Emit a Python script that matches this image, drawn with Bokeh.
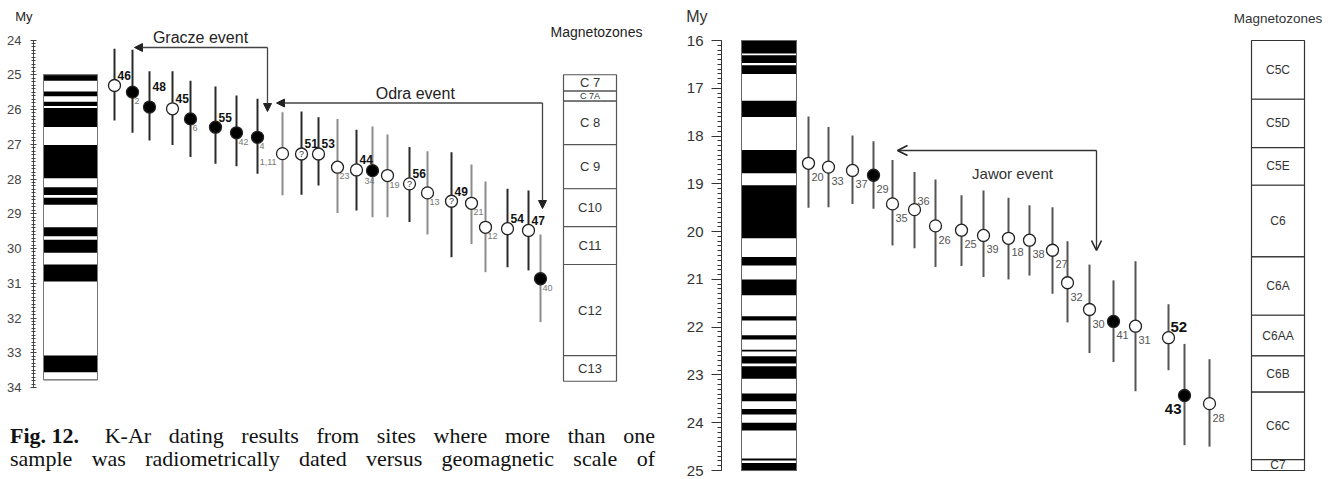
from bokeh.plotting import figure
from bokeh.models import Range1d, FixedTicker, ColumnDataSource, Arrow, NormalHead, OpenHead, Div
from bokeh.layouts import row, column
from bokeh.core.properties import value
from bokeh.embed import file_html
from bokeh.resources import INLINE

SANS = value("Liberation Sans")
SANS_STR = "Liberation Sans"

# ---------------- data: left panel ----------------
left_labels = ["46", "2", "48", "45", "6", "55", "42", "4", "1,11", "51", "53", "23",
               "44", "34", "19", "56", "13", "49", "21", "12", "54", "47", "40"]
left_x = [114, 132, 149, 172, 190, 215, 236, 257, 282, 301, 318, 337,
          356, 372, 387, 409, 427, 451, 471, 485, 507, 528, 540]
left_age = [25.31, 25.50, 25.93, 25.98, 26.27, 26.51, 26.67, 26.80, 27.27, 27.28, 27.28, 27.66,
            27.74, 27.76, 27.90, 28.14, 28.40, 28.64, 28.70, 29.39, 29.43, 29.48, 30.87]
left_lo = [24.25, 24.28, 24.90, 24.90, 25.17, 25.34, 25.60, 25.69, 26.08, 26.06, 26.22, 26.27,
           26.58, 26.49, 26.72, 27.08, 27.20, 27.23, 27.58, 28.07, 28.28, 28.33, 29.60]
left_hi = [26.32, 26.67, 26.89, 27.02, 27.37, 27.56, 27.63, 27.85, 28.47, 28.45, 28.19, 28.98,
           28.91, 29.10, 29.10, 29.24, 29.60, 30.25, 29.87, 30.68, 30.54, 30.63, 32.12]
left_filled = ["2", "48", "6", "55", "42", "4", "34", "40"]
left_bold = ["46", "48", "45", "55", "51", "53", "44", "56", "49", "54", "47"]
left_query = ["51", "56", "49"]

left_black_top = [25.00, 25.48, 25.78, 25.96, 27.02, 28.24, 28.54, 29.39, 29.75, 30.46, 33.08]
left_black_bot = [25.17, 25.62, 25.90, 26.50, 27.98, 28.46, 28.74, 29.65, 30.12, 30.95, 33.56]
left_column_span = [25.00, 33.78]

left_zone_names = ["C 7", "C 7A", "C 8", "C 9", "C10", "C11", "C12", "C13"]
left_zone_bounds = [25.00, 25.47, 25.76, 27.01, 28.28, 29.37, 30.46, 33.08, 33.82]

left_ticks = list(range(24, 35))

# ---------------- data: right panel ----------------
right_labels = ["20", "33", "37", "29", "35", "36", "26", "25", "39", "18", "38", "27",
                "32", "30", "41", "31", "52", "43", "28"]
right_x = [808, 828, 852, 873, 892, 914, 935, 961, 983, 1008, 1029, 1052,
           1067, 1089, 1113, 1135, 1168, 1184, 1209]
right_age = [18.57, 18.65, 18.72, 18.82, 19.42, 19.54, 19.88, 19.97, 20.08, 20.14, 20.18, 20.39,
             21.07, 21.63, 21.88, 21.98, 22.22, 23.43, 23.60]
right_lo = [17.59, 17.81, 17.99, 18.11, 18.50, 18.75, 18.91, 19.24, 19.14, 19.29, 19.45, 19.49,
            20.20, 20.69, 21.02, 20.62, 21.52, 22.35, 22.67]
right_hi = [19.50, 19.49, 19.42, 19.52, 20.29, 20.35, 20.74, 20.72, 20.95, 21.00, 20.92, 21.30,
            21.90, 22.54, 22.73, 23.34, 22.90, 24.47, 24.50]
right_filled = ["29", "41", "43"]
right_bold = ["52", "43"]

right_black_top = [16.00, 16.31, 16.52, 17.26, 18.29, 19.03, 20.53, 21.00, 21.77, 22.17, 22.47,
                   22.61, 22.82, 23.39, 23.71, 24.00, 24.75, 24.84]
right_black_bot = [16.27, 16.47, 16.70, 17.60, 18.78, 20.14, 20.71, 21.33, 21.86, 22.26, 22.51,
                   22.76, 23.08, 23.55, 23.83, 24.16, 24.79, 25.00]
right_column_span = [16.00, 25.00]

right_zone_names = ["C5C", "C5D", "C5E", "C6", "C6A", "C6AA", "C6B", "C6C", "C7"]
right_zone_bounds = [16.00, 17.23, 18.24, 19.03, 20.53, 21.75, 22.60, 23.36, 24.77, 25.00]

right_ticks = list(range(16, 26))

caption_bold = "Fig. 12."
caption_line1 = "K-Ar dating results from sites where more than one"
caption_line2 = "sample was radiometrically dated versus geomagnetic scale of"

L_STRIP = 24  # height of the top strip holding the "My" unit label (left)
R_STRIP = 28  # same, right panel (also holds "Magnetozones")


def plain_fig(width, height, xr, yr, left_border):
    p = figure(width=width, height=height, x_range=xr, y_range=yr,
               output_backend="svg", toolbar_location=None,
               min_border_left=left_border, min_border_right=0,
               min_border_top=0, min_border_bottom=0,
               x_axis_location=None)
    p.grid.visible = False
    p.outline_line_color = None
    p.background_fill_color = "white"
    p.border_fill_color = "white"
    return p


def unit_strip(width, height, x0, x1, left_border, y_label, size, standoff, color):
    """Thin figure whose (otherwise invisible) y axis carries the 'My' unit label."""
    s = plain_fig(width, height, Range1d(x0, x1), Range1d(height, 0), left_border)
    ax = s.yaxis[0]
    ax.ticker = FixedTicker(ticks=[y_label], minor_ticks=[])
    ax.major_label_overrides = {y_label: "My"}
    ax.axis_line_color = None
    ax.major_tick_line_color = None
    ax.minor_tick_line_color = None
    ax.major_tick_out = 0
    ax.major_tick_in = 0
    ax.major_label_standoff = standoff
    ax.major_label_text_font = SANS_STR
    ax.major_label_text_font_size = size
    ax.major_label_text_color = color
    return s


def style_axis(p, ticks, size, tick_out, tick_in, minor_out, minor_in, standoff, color):
    lo, hi = ticks[0], ticks[-1]
    minors = [round(lo + 0.1 * i, 2) for i in range(int((hi - lo) * 10) + 1)]
    ax = p.yaxis[0]
    ax.ticker = FixedTicker(ticks=ticks, minor_ticks=minors)
    ax.bounds = (lo, hi)
    ax.major_label_text_font = SANS_STR
    ax.major_label_text_font_size = size
    ax.major_label_text_color = color
    ax.major_tick_out = tick_out
    ax.major_tick_in = tick_in
    ax.minor_tick_out = minor_out
    ax.minor_tick_in = minor_in
    ax.major_label_standoff = standoff
    ax.axis_line_color = color
    ax.major_tick_line_color = color
    ax.minor_tick_line_color = color


def draw_polarity(p, x0, x1, span, tops, bots, edge):
    p.quad(left=x0, right=x1, top=span[0], bottom=span[1], fill_color="white",
           line_color=edge, line_width=1)
    p.quad(left=[x0] * len(tops), right=[x1] * len(tops), top=tops, bottom=bots,
           fill_color="black", line_color=None)
    p.quad(left=x0, right=x1, top=span[0], bottom=span[1], fill_color=None,
           line_color=edge, line_width=1)


def draw_zones(p, x0, x1, names, bounds, edge, fsize, small=None):
    n = len(names)
    p.quad(left=[x0] * n, right=[x1] * n, top=bounds[:-1], bottom=bounds[1:],
           fill_color="white", line_color=edge, line_width=1.2)
    mids = [(bounds[i] + bounds[i + 1]) / 2 for i in range(n)]
    sizes = [small[1] if (small and names[i] in small[0]) else fsize for i in range(n)]
    src = ColumnDataSource(dict(x=[(x0 + x1) / 2] * n, y=mids, t=names, s=sizes))
    p.text(x="x", y="y", text="t", source=src, text_font=SANS, text_font_size="s",
           text_align="center", text_baseline="middle", text_color="#333")


def point_labels(p, rows):
    for align in ("left", "right"):
        d = dict(x=[], y=[], t=[], dx=[], dy=[], s=[], c=[], st=[])
        for r in rows:
            if r["align"] != align:
                continue
            for k in d:
                d[k].append(r[k])
        if d["x"]:
            p.text(x="x", y="y", text="t", x_offset="dx", y_offset="dy", text_font_size="s",
                   text_color="c", text_font_style="st", source=ColumnDataSource(d),
                   text_font=SANS, text_align=align, text_baseline="middle")


# ================= LEFT PANEL =================
L_PX = 34.75


def ly(py):
    return 24 + (py - 39.5) / L_PX


lstrip = unit_strip(668, L_STRIP, 33, 668, 33, 16.7, "13px", 1, "#222")

left = plain_fig(668, 408 - L_STRIP, Range1d(33, 668), Range1d(ly(408), ly(L_STRIP)), 33)
style_axis(left, left_ticks, "13px", 3, 3, 2, 2, 9, "#444")

draw_polarity(left, 43, 97, left_column_span, left_black_top, left_black_bot, "#777")
draw_zones(left, 563, 616, left_zone_names, left_zone_bounds, "#555", "13px",
           small=(["C 7A"], "9px"))

dark_bars = set(left_bold) | {"2", "6", "42", "4"}
bar_col = ["#2a2a2a" if l in dark_bars else "#8c8c8c" for l in left_labels]
left.segment(x0=left_x, y0=left_lo, x1=left_x, y1=left_hi, line_color=bar_col, line_width=2)

fill = ["black" if l in left_filled else "white" for l in left_labels]
left.scatter(x=left_x, y=left_age, size=12, fill_color=fill, line_color="#222", line_width=1.3)

qx = [left_x[left_labels.index(q)] for q in left_query]
qy = [left_age[left_labels.index(q)] for q in left_query]
left.text(x=qx, y=qy, text=["?"] * len(qx), text_font=SANS, text_font_size="9px",
          text_align="center", text_baseline="middle", text_color="#333")

rows = []
for l, x, y in zip(left_labels, left_x, left_age):
    bold = l in left_bold
    dx, dy = (3, -10) if bold else (2, 9)
    align = "left"
    if l == "48":
        dy = -21
    if l == "34":
        dx, dy = -8, 10
    if l == "1,11":
        align, dx, dy = "right", -6, 8
    rows.append(dict(x=x, y=y, t=l, dx=dx, dy=dy, s="12px" if bold else "9px",
                     c="#111" if bold else "#777", st="bold" if bold else "normal",
                     align=align))
point_labels(left, rows)

for xs, ys, xe, ye in [(267, ly(47), 134, ly(47)), (267, ly(47), 267, ly(111)),
                       (542, ly(102.5), 276, ly(102.5)), (542, ly(102.5), 542, ly(208))]:
    left.add_layout(Arrow(x_start=xs, y_start=ys, x_end=xe, y_end=ye, line_color="#444",
                          line_width=1.3,
                          end=NormalHead(size=8, fill_color="#222", line_color="#222")))

left.text(x=[200, 417, 596], y=[ly(37), ly(93), ly(31.7)],
          text=["Gracze event", "Odra  event", "Magnetozones"],
          text_font=SANS, text_font_size=["16px", "16px", "14px"],
          text_align="center", text_baseline="middle", text_color="#222")

# ================= CAPTION =================
cap_html = (
    "<div style=\"width:645px;text-align:justify;text-align-last:justify;"
    "font-family:'Liberation Serif',serif;font-size:22px;line-height:23px;color:#111;\">"
    f"<span style=\"display:inline-block;margin-right:8px;\"><b>{caption_bold}</b></span> "
    f"{caption_line1}<br>{caption_line2}</div>"
)
cap = Div(text=cap_html, width=668, height=71, margin=0,
          styles={"padding-left": "10px", "padding-top": "16px", "box-sizing": "border-box"})

# ================= RIGHT PANEL =================
R_PX = 47.78


def ry(py):
    return 16 + (py - 40) / R_PX


rstrip = unit_strip(669, R_STRIP, 721, 1337, 53, 16, "16px", 14, "#333")
rstrip.text(x=[1277.5], y=[18.3], text=["Magnetozones"], text_font=SANS,
            text_font_size="13.5px", text_align="center", text_baseline="middle",
            text_color="#333")

right = plain_fig(669, 479 - R_STRIP, Range1d(721, 1337), Range1d(ry(479), ry(R_STRIP)), 53)
style_axis(right, right_ticks, "15px", 10, 0, 4, 0, 8, "#333")

draw_polarity(right, 741, 796, right_column_span, right_black_top, right_black_bot, "#666")
draw_zones(right, 1251, 1304, right_zone_names, right_zone_bounds, "#333", "12px")

right.segment(x0=right_x, y0=right_lo, x1=right_x, y1=right_hi, line_color="#555", line_width=2)
rfill = ["black" if l in right_filled else "white" for l in right_labels]
right.scatter(x=right_x, y=right_age, size=12, fill_color=rfill, line_color="#222", line_width=1.3)

rows = []
for l, x, y in zip(right_labels, right_x, right_age):
    bold = l in right_bold
    dx, dy, align = 3, 14, "left"
    if l == "36":
        dy = -9
    if l == "52":
        dx, dy = 2, -11
    if l == "43":
        align, dx, dy = "right", -3, 13
    rows.append(dict(x=x, y=y, t=l, dx=dx, dy=dy, s="15px" if bold else "11px",
                     c="#111" if bold else "#555", st="bold" if bold else "normal",
                     align=align))
point_labels(right, rows)

for xs, ys, xe, ye in [(1096, ry(150), 897, ry(150)), (1096, ry(150), 1096, ry(250))]:
    right.add_layout(Arrow(x_start=xs, y_start=ys, x_end=xe, y_end=ye, line_color="#333",
                           line_width=1.3,
                           end=OpenHead(size=10, line_color="#222", line_width=1.6)))

right.text(x=[1012], y=[ry(173.3)], text=["Jawor event"],
           text_font=SANS, text_font_size="15px", text_align="center",
           text_baseline="middle", text_color="#333")

layout = row(column(lstrip, left, cap), column(rstrip, right))
open("out.html", "w").write(file_html(layout, INLINE))
